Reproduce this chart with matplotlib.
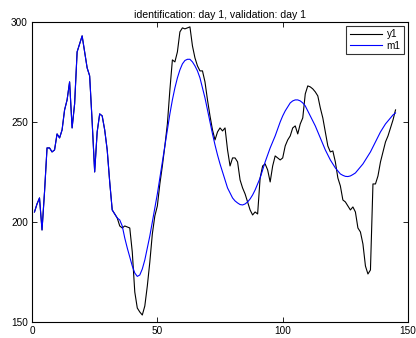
import matplotlib
matplotlib.use("Agg")
import matplotlib.pyplot as plt

plt.rcParams['font.family'] = ['Liberation Sans', 'DejaVu Sans']

# Measured output y1 (one sample per step)
y1 = [205, 209, 212, 196, 215, 237, 237, 235, 236, 244,
      242, 246, 256, 261, 270, 247, 259, 285, 289, 293,
      285, 277, 273, 250, 225, 245, 254, 253, 246, 236,
      220, 206, 204, 202, 198, 197, 198, 197.5, 197, 185,
      165, 157, 155, 153.5, 158, 168, 180, 194, 203, 208,
      219, 228, 238, 249, 266, 281, 280, 285, 295, 297,
      296.5, 297, 297.5, 288, 282, 278, 275.5, 275.5, 270, 261,
      253, 246, 241, 245, 247, 245.5, 247, 236, 228, 232,
      232, 230, 221, 217, 214, 210, 206, 203.5, 205, 204,
      222, 228, 229, 226, 220, 228, 233, 232, 231, 232,
      238, 241, 243, 247, 248, 244, 249, 252, 264, 268,
      267.5, 266.5, 265, 263, 257, 252, 245, 238, 235, 235.5,
      230, 222, 218, 211, 210, 208, 206, 207.5, 205, 197,
      195, 189, 178, 174, 176, 219, 219, 223, 230, 235,
      240, 243, 247, 251, 256]

# Simulated model output m1
m1 = [205, 209, 212, 196, 215, 237, 237, 235, 236, 244,
      242, 246, 256, 261, 270, 247, 259, 285, 289, 293,
      285, 277, 273, 250, 225, 245, 254, 253, 246, 236,
      220, 206, 204, 202, 201, 198, 192, 187, 182.5, 178,
      174.5, 172.8, 173.5, 176.5, 181, 187, 193, 200, 207, 214,
      222, 230, 238, 246, 254, 261, 267, 272, 276, 279,
      280.7, 281.3, 281.3, 280, 278, 275.5, 272, 267, 262, 256,
      250, 244, 238.5, 233.5, 229, 225, 221, 217, 214.5, 212,
      210.5, 209.5, 208.7, 208.5, 209, 210, 211.5, 213.5, 216, 219,
      222, 226, 230, 233.5, 237, 240, 243, 246.5, 250, 253,
      255.5, 257.5, 259.5, 260.5, 261, 261, 260.5, 259.5, 258, 255.5,
      253, 250.5, 248, 245, 242, 239, 236, 233.5, 231, 229,
      227, 225.5, 224, 223.3, 222.8, 222.7, 223, 223.7, 224.5, 226,
      227.5, 229, 231, 233, 235, 237.5, 240, 242.5, 245, 247,
      249, 250.5, 252, 253.5, 254.5]

t = list(range(1, len(y1) + 1))

x_ticks = [0, 50, 100, 150]
y_ticks = [150, 200, 250, 300]
title = "identification: day 1, validation: day 1"

fig = plt.figure(figsize=(4.16, 3.38), dpi=100)
ax = fig.add_axes([0.0769, 0.0473, 0.904, 0.888])

ax.plot(t, y1, color='black', lw=0.8, label='y1')
ax.plot(t, m1, color='#0000ff', lw=0.8, label='m1')

ax.set_xlim(0, 150)
ax.set_ylim(150, 300)
ax.set_xticks(x_ticks)
ax.set_yticks(y_ticks)
ax.tick_params(direction='in', length=3.5, width=0.6, labelsize=7.2,
               top=True, right=True, pad=3)
for s in ax.spines.values():
    s.set_linewidth(0.8)

ax.set_title(title, fontsize=7.6, pad=3)

leg = ax.legend(loc='upper right', fontsize=7.2, frameon=True, fancybox=False,
                edgecolor='black', handlelength=3.2, handletextpad=0.5,
                borderpad=0.35, labelspacing=0.15, borderaxespad=0.4)
leg.get_frame().set_linewidth(0.8)

fig.savefig('out.png', dpi=100, facecolor='white')
